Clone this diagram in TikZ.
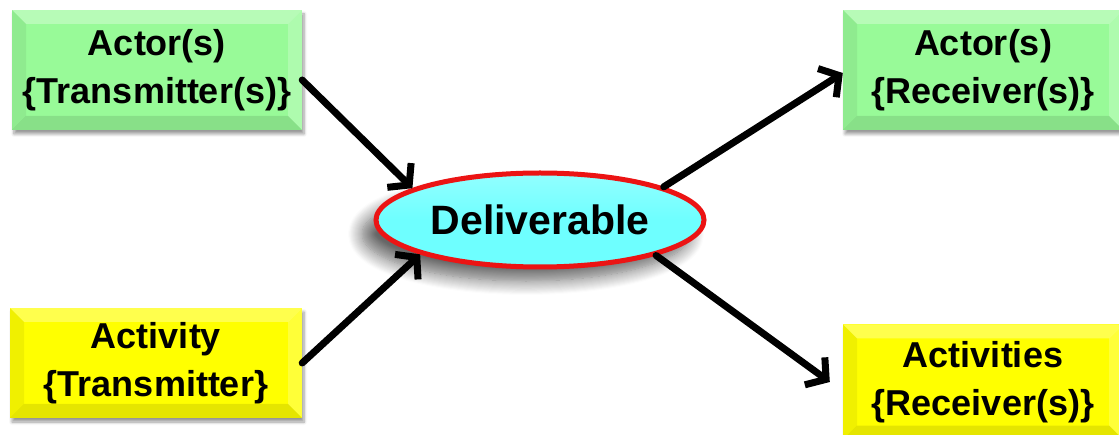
\documentclass[tikz,border=0pt]{standalone}
\usepackage{fontspec}
\setmainfont{Liberation Sans}
\usetikzlibrary{arrows.meta,shapes.geometric,shadows.blur}
\definecolor{boxgreen}{RGB}{152,250,152}
\definecolor{boxyellow}{RGB}{255,255,0}
\definecolor{delcyan}{RGB}{110,255,255}
\definecolor{delred}{RGB}{235,20,20}
\tikzset{
  bevel/.style={path picture={
    \fill[white,opacity=0.30] (path picture bounding box.north west) -- (path picture bounding box.north east)
      -- ([xshift=-14pt,yshift=-14pt]path picture bounding box.north east) -- ([xshift=14pt,yshift=-14pt]path picture bounding box.north west) -- cycle;
    \fill[white,opacity=0.22] (path picture bounding box.north east) -- (path picture bounding box.south east)
      -- ([xshift=-14pt,yshift=14pt]path picture bounding box.south east) -- ([xshift=-14pt,yshift=-14pt]path picture bounding box.north east) -- cycle;
    \fill[black,opacity=0.06] (path picture bounding box.north west) -- (path picture bounding box.south west)
      -- ([xshift=14pt,yshift=14pt]path picture bounding box.south west) -- ([xshift=14pt,yshift=-14pt]path picture bounding box.north west) -- cycle;
    \fill[black,opacity=0.10] (path picture bounding box.south west) -- (path picture bounding box.south east)
      -- ([xshift=-14pt,yshift=14pt]path picture bounding box.south east) -- ([xshift=14pt,yshift=14pt]path picture bounding box.south west) -- cycle;
  }},
  boxnode/.style={rectangle, inner sep=0pt, align=center, bevel,
    font=\fontsize{36}{48}\selectfont\bfseries,
    blur shadow={shadow xshift=2pt, shadow yshift=-4pt, shadow blur steps=6, shadow opacity=40, shadow blur radius=3pt}},
  greenbox/.style={boxnode, fill=boxgreen},
  yellowbox/.style={boxnode, fill=boxyellow},
  conn/.style={line width=7pt, line cap=round, -{Straight Barb[length=14pt,width=34pt,line width=7pt]}},
}
\begin{document}
\begin{tikzpicture}[x=1pt,y=-1pt]
\useasboundingbox (0,0) rectangle (1119,435);
\node[greenbox, minimum width=290pt, minimum height=120pt] (tl) at (157,70) {Actor(s)\\\{Transmitter(s)\}};
\node[yellowbox, minimum width=292pt, minimum height=110pt] (bl) at (156,363) {Activity\\\{Transmitter\}};
\node[greenbox, minimum width=280pt, minimum height=120pt] (tr) at (983,70) {Actor(s)\\\{Receiver(s)\}};
\node[yellowbox, minimum width=280pt, minimum height=115pt] (br) at (983,382) {Activities\\\{Receiver(s)\}};
\node[ellipse, draw=delred, line width=5pt, minimum width=328pt, minimum height=94pt, inner sep=0pt,
  top color=delcyan!75!white, bottom color=delcyan, middle color=delcyan,
  font=\fontsize{41}{48}\selectfont\bfseries,
  blur shadow={shadow xshift=-14pt, shadow yshift=-14pt, shadow blur steps=14, shadow blur radius=14pt, shadow opacity=60}] (del) at (540,220) {Deliverable};
\draw[conn] ([yshift=-10pt]tl.east) -- (del.166);
\draw[conn] (bl.east) -- (del.196);
\draw[conn] (del.15) -- ([yshift=-3pt]tr.west);
\draw[conn] (del.-17) -- ([xshift=-13pt]br.west);
\end{tikzpicture}
\end{document}
